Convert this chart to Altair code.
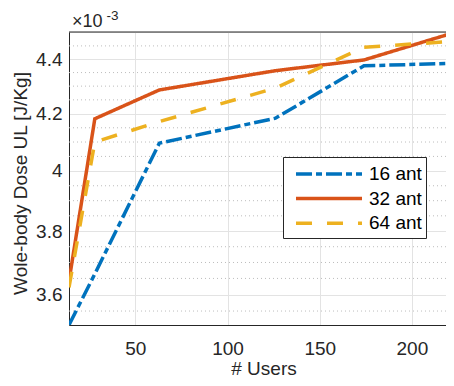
import altair as alt
import pandas as pd

# ---- data (values in units of 1e-3 J/Kg) ----
users = [14, 28, 63, 126, 174, 224]
series_names = ["16 ant", "32 ant", "64 ant"]
dose_16 = [3.508, 3.664, 4.096, 4.184, 4.375, 4.385]
dose_32 = [3.642, 4.182, 4.286, 4.357, 4.397, 4.503]
dose_64 = [3.622, 4.100, 4.172, 4.293, 4.445, 4.468]

x_ticks = [50, 100, 150, 200]
y_ticks = [3.6, 3.8, 4.0, 4.2, 4.4]
y_minor = [3.55, 3.65, 3.7, 3.75, 3.85, 3.9, 3.95, 4.05, 4.1, 4.15,
           4.25, 4.3, 4.35, 4.45]
exp_text = ["×10", "-3"]

colors = ["#0072BD", "#D95319", "#EDB120"]
dashes = [[16, 4, 6, 4], [1, 0], [16, 15]]

rows = []
for name, vals in zip(series_names, [dose_16, dose_32, dose_64]):
    for u, v in zip(users, vals):
        rows.append({"users": u, "dose": v, "series": name})
df = pd.DataFrame(rows)

FONT = "Liberation Sans"
TXT = "#262626"
FS = 19
W, H = 377, 293

xscale = alt.Scale(domain=[14, 218.5], nice=False, zero=False)
yscale = alt.Scale(type="log", domain=[3.508, 4.503], nice=False, zero=False)

y_axis = alt.Axis(values=y_ticks, format="~g",
                  title="Wole-body Dose UL [J/Kg]", grid=True,
                  gridColor="#e3e3e3", domainColor=TXT, tickSize=0,
                  labelPadding=7, labelFontSize=FS, labelColor=TXT,
                  labelFont=FONT, titleFont=FONT, titleFontSize=FS,
                  titleFontWeight="normal", titleColor=TXT,
                  titleAngle=270, titleX=-43, titleY=151,
                  titleAlign="center", titleBaseline="alphabetic")
x_axis = alt.Axis(values=x_ticks, title="# Users", grid=True,
                  gridColor="#e3e3e3", domainColor=TXT, tickSize=0,
                  labelPadding=14, labelFontSize=FS, labelColor=TXT,
                  labelFont=FONT, titleFont=FONT, titleFontSize=FS,
                  titleFontWeight="normal", titleColor=TXT,
                  titleX=194.5, titleY=49, titleBaseline="alphabetic")

minor = alt.Chart(pd.DataFrame({"v": y_minor})).mark_rule(
    color="#bdbdbd", strokeDash=[1, 3], strokeWidth=1
).encode(y=alt.Y("v:Q", scale=yscale, axis=y_axis))

lines = alt.Chart(df).mark_line(strokeWidth=3.5, clip=True).encode(
    x=alt.X("users:Q", scale=xscale, axis=x_axis),
    y=alt.Y("dose:Q", scale=yscale, axis=y_axis),
    color=alt.Color("series:N",
                    scale=alt.Scale(domain=series_names, range=colors),
                    legend=alt.Legend(title=None, orient="none",
                                      legendX=214, legendY=125,
                                      symbolType="M-0.364,0H5.636",
                                      symbolSize=484,
                                      symbolStrokeWidth=3.5,
                                      labelFontSize=FS, labelFont=FONT,
                                      labelColor="#000000", labelOffset=56,
                                      labelExpr="datum.label + '\u00a0\u00a0'",
                                      rowPadding=1.6, padding=4,
                                      strokeColor="#262626", fillColor="white")),
    strokeDash=alt.StrokeDash("series:N",
                              scale=alt.Scale(domain=series_names, range=dashes),
                              legend=None),
    order=alt.Order("users:Q"),
)

top_border = alt.Chart(pd.DataFrame({"a": [0]})).mark_rule(
    color=TXT, strokeWidth=1
).encode(y=alt.value(0))

exp_df = pd.DataFrame({"t": exp_text, "k": [0, 1]})
exp_main = alt.Chart(exp_df).transform_filter("datum.k == 0").mark_text(
    align="left", baseline="alphabetic", fontSize=18, font=FONT, color=TXT
).encode(text="t:N", x=alt.value(3), y=alt.value(-5.3))
exp_sup = alt.Chart(exp_df).transform_filter("datum.k == 1").mark_text(
    align="left", baseline="alphabetic", fontSize=13.5, font=FONT, color=TXT
).encode(text="t:N", x=alt.value(37.5), y=alt.value(-12))

chart = alt.layer(minor, lines, top_border, exp_main, exp_sup).properties(
    width=W, height=H,
    autosize=alt.AutoSizeParams(type="none"),
    padding={"left": 61, "top": 24, "right": 0, "bottom": 53},
).configure_view(stroke=None).configure(background="white")

chart.save("out.html", embed_options={"renderer": "svg", "actions": False})
